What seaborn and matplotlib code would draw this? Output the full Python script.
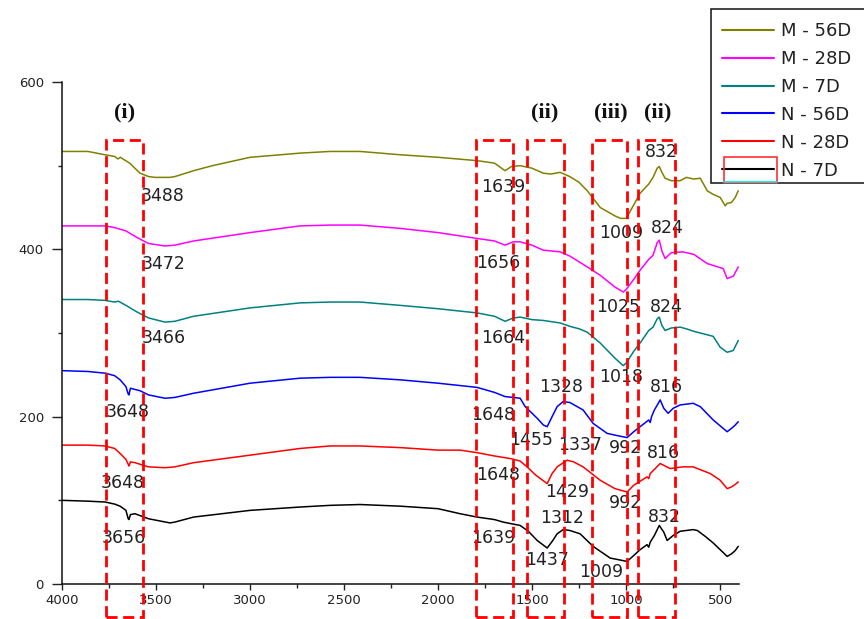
import numpy as np
import pandas as pd
import matplotlib
matplotlib.use("Agg")
import matplotlib.pyplot as plt
from matplotlib.patches import Rectangle
from matplotlib.lines import Line2D
import seaborn as sns

# ---------------- data (wavenumber, intensity) ----------------
wn_m56 = [4000, 3862, 3771, 3720, 3702, 3690, 3640, 3585, 3540, 3505, 3426, 3399, 3300, 3200, 3000,
          2734, 2574, 2415, 2200, 2000, 1793, 1700, 1644, 1610, 1564, 1501, 1441, 1400, 1351, 1300,
          1250, 1207, 1138, 1060, 1030, 1000, 960, 926, 880, 857, 835, 824, 810, 793, 760, 713, 680,
          640, 606, 569, 540, 500, 473, 463, 440, 420, 404]
ab_m56 = [517, 517, 513, 511, 508, 510, 503, 491, 487, 486, 486, 487, 494, 500, 510,
          515, 517, 517, 513, 510, 506, 503, 494, 499, 500, 497, 491, 490, 492, 487,
          480, 470, 450, 440, 437, 437, 453, 467, 478, 486, 497, 499, 492, 485, 482, 482, 486,
          484, 485, 470, 466, 462, 452, 455, 456, 462, 470]

wn_m28 = [4000, 3862, 3771, 3720, 3660, 3600, 3540, 3452, 3400, 3300, 3000, 2734, 2574, 2415, 2200,
          2000, 1793, 1700, 1644, 1600, 1564, 1501, 1441, 1351, 1300, 1250, 1207, 1138, 1060, 1016,
          1000, 960, 926, 880, 857, 835, 824, 810, 793, 760, 700, 640, 569, 484, 463, 430, 404]
ab_m28 = [428, 428, 428, 426, 422, 414, 407, 404, 405, 410, 420, 428, 429, 429, 425,
          420, 413, 410, 405, 409, 409, 405, 399, 397, 392, 385, 379, 369, 355, 349,
          352, 364, 375, 388, 393, 408, 411, 398, 389, 396, 397, 394, 383, 377, 365, 368, 379]

wn_m7 = [4000, 3862, 3771, 3720, 3700, 3660, 3600, 3540, 3452, 3400, 3300, 3000, 2734, 2574, 2415,
         2200, 2000, 1793, 1700, 1644, 1600, 1564, 1501, 1441, 1351, 1300, 1250, 1207, 1138, 1060,
         1016, 1000, 960, 926, 880, 857, 835, 824, 810, 793, 760, 713, 680, 640, 606, 537, 500,
         463, 431, 404]
ab_m7 = [340, 340, 339, 337, 338, 333, 325, 318, 313, 314, 320, 330, 336, 337, 337,
         333, 329, 324, 320, 314, 318, 319, 316, 315, 312, 308, 305, 301, 288, 270,
         261, 264, 278, 288, 303, 307, 317, 319, 309, 303, 306, 307, 305, 302, 300, 296, 283,
         277, 279, 291]

wn_n56 = [4000, 3862, 3771, 3720, 3691, 3660, 3648, 3644, 3636, 3620, 3585, 3540, 3452, 3400, 3300,
          3000, 2734, 2574, 2415, 2200, 2000, 1793, 1700, 1644, 1600, 1564, 1537, 1500, 1473, 1440,
          1420, 1394, 1367, 1335, 1300, 1229, 1176, 1101, 1040, 995, 960, 926, 880, 872, 865, 850,
          819, 800, 777, 750, 713, 644, 606, 537, 463, 440, 420, 404]
ab_n56 = [255, 254, 252, 249, 244, 236, 227, 226, 234, 233, 231, 226, 222, 223, 228,
          240, 246, 247, 247, 244, 240, 235, 229, 224, 223, 222, 212, 204, 198, 190,
          188, 200, 212, 218, 217, 208, 192, 180, 177, 175, 182, 188, 196, 193, 200, 208,
          220, 210, 204, 210, 214, 216, 212, 196, 182, 186, 190, 194]

wn_n28 = [4000, 3862, 3771, 3720, 3691, 3660, 3648, 3644, 3636, 3612, 3540, 3452, 3400, 3300, 3000,
          2734, 2574, 2415, 2200, 2000, 1883, 1793, 1700, 1617, 1564, 1527, 1480, 1420, 1394, 1367,
          1314, 1280, 1229, 1138, 1060, 995, 960, 889, 880, 872, 819, 766, 700, 644, 553, 500,
          463, 440, 420, 404]
ab_n28 = [166, 166, 165, 162, 156, 149, 143, 141, 146, 145, 140, 139, 140, 145, 154,
          162, 165, 165, 163, 160, 160, 157, 153, 150, 147, 140, 130, 120, 132, 140,
          148, 146, 140, 124, 114, 110, 118, 128, 126, 132, 144, 138, 140, 140, 132, 124,
          114, 116, 119, 122]

wn_n7 = [4000, 3862, 3771, 3720, 3691, 3660, 3648, 3644, 3636, 3612, 3540, 3426, 3400, 3300, 3000,
         2734, 2574, 2415, 2200, 2000, 1883, 1793, 1700, 1654, 1564, 1520, 1473, 1420, 1390, 1367,
         1335, 1300, 1245, 1176, 1085, 995, 960, 926, 889, 880, 872, 850, 824, 800, 782, 750,
         713, 680, 644, 622, 580, 537, 463, 440, 420, 404]
ab_n7 = [100, 99, 98, 95.5, 93, 88, 78, 77, 83, 84, 78, 73, 74, 80, 88,
         92, 94, 95, 93, 90, 84, 80, 77, 74, 70, 63, 52, 43, 52, 60,
         65, 64, 60, 45, 31, 27, 34, 41, 47, 44, 50, 58, 70, 62, 52, 58,
         63, 64, 65, 64, 57, 49, 33, 36, 40, 45]

series_names = ["M - 56D", "M - 28D", "M - 7D", "N - 56D", "N - 28D", "N - 7D"]
series_colors = ["#808000", "#ff00ff", "#008080", "#0000ff", "#ff0000", "#000000"]

x_ticks = [4000, 3500, 3000, 2500, 2000, 1500, 1000, 500]
y_ticks = [0, 200, 400, 600]

# peak annotations: text, wavenumber, y
peak_text = ["3488", "3472", "3466", "3648", "3648", "3656",
             "1639", "1656", "1664", "1648", "1648", "1639",
             "1009", "1025", "1018", "992", "992", "1009",
             "832", "824", "824", "816", "816", "832",
             "1328", "1455", "1337", "1429", "1312", "1437"]
peak_x = [3463, 3457, 3457, 3649, 3676, 3670,
          1654, 1678, 1654, 1705, 1681, 1707,
          1024, 1043, 1027, 1005, 1005, 1133,
          814, 782, 787, 787, 803, 798,
          1346, 1505, 1245, 1314, 1340, 1420]
peak_y = [464, 383, 294, 205, 121, 55,
          474, 384, 294, 202, 130, 55,
          420, 331, 247, 162, 97, 14,
          516, 426, 331, 236, 156, 80,
          235, 172, 166, 110, 79, 29]

region_text = ["(i)", "(ii)", "(iii)", "(ii)"]
region_x = [3665, 1431, 1080, 830]

box_left = [3766, 1798, 1528, 1183, 935]
box_right = [3571, 1603, 1333, 996, 739]

# ---------------- build table ----------------
frames = []
for name, wn, ab in zip(series_names,
                        [wn_m56, wn_m28, wn_m7, wn_n56, wn_n28, wn_n7],
                        [ab_m56, ab_m28, ab_m7, ab_n56, ab_n28, ab_n7]):
    frames.append(pd.DataFrame({"wn": wn, "ab": ab, "series": name}))
df = pd.concat(frames, ignore_index=True)

sns.set_theme(style="ticks")
plt.rcParams["font.family"] = ["DejaVu Sans"]

fig = plt.figure(figsize=(8.64, 6.19), dpi=100)
ax = fig.add_axes([62 / 864, 1 - 584 / 619, 677 / 864, 502 / 619])

sns.lineplot(data=df, x="wn", y="ab", hue="series", hue_order=series_names,
             palette=dict(zip(series_names, series_colors)), estimator=None,
             sort=False, linewidth=1.1, legend=False, ax=ax)

ax.set_xlim(4000, 400)
ax.set_ylim(0, 600)
ax.set_xticks(x_ticks)
ax.set_yticks(y_ticks)
ax.set_xticks([3750, 3250, 2750, 2250, 1750, 1250, 750], minor=True)
ax.set_yticks([100, 300, 500], minor=True)
ax.set_xlabel("")
ax.set_ylabel("")
for s in ["top", "right"]:
    ax.spines[s].set_visible(False)
for s in ["left", "bottom"]:
    ax.spines[s].set_linewidth(1.1)
    ax.spines[s].set_color("#111111")
ax.tick_params(axis="x", which="major", length=4.5, width=1.0, labelsize=9.5, pad=3, colors="#222222")
ax.tick_params(axis="y", which="major", length=7, width=1.0, labelsize=9.5, pad=6, colors="#222222")
ax.tick_params(axis="x", which="minor", length=3, width=1.0, colors="#222222")
ax.tick_params(axis="y", which="minor", length=3, width=1.0, colors="#222222")
ax.patch.set_alpha(0)

for t, x, y in zip(peak_text, peak_x, peak_y):
    ax.text(x, y, t, ha="center", va="center", fontsize=12.5, color="#222222", clip_on=False)

for t, x in zip(region_text, region_x):
    ax.text(x, 563, t, ha="center", va="center", fontsize=16, fontweight="bold",
            family="Liberation Serif", color="#111111", clip_on=False)

for l, r in zip(box_left, box_right):
    rect = Rectangle((l, -40), r - l, 571, fill=False, edgecolor="#ff0000",
                     linewidth=2.0, linestyle=(0, (4, 2)), clip_on=False, zorder=5)
    ax.add_patch(rect)

# legend
frame = Rectangle((711 / 864, 1 - 183 / 619), 0.25, 174 / 619, transform=fig.transFigure,
                  fill=True, facecolor="white", edgecolor="#111111", linewidth=1.1, zorder=3)
fig.patches.append(frame)
handles = [Line2D([], [], color=c, lw=1.5) for c in series_colors]
leg = fig.legend(handles, series_names, loc="upper left", bbox_to_anchor=(722 / 864, 1 - 22 / 619),
                 frameon=False, fontsize=13, handlelength=2.9, handletextpad=0.35,
                 labelspacing=0.55, borderpad=0, borderaxespad=0)
leg.set_zorder(4)
for txt in leg.get_texts():
    txt.set_color("#222222")
fig.patches.append(Rectangle((724 / 864, 1 - 183 / 619), 53 / 864, 26 / 619, transform=fig.transFigure,
                             fill=False, edgecolor="#ff3030", linewidth=1.2, zorder=5))
fig.lines.append(Line2D([724 / 864, 777 / 864], [1 - 182 / 619, 1 - 182 / 619],
                        transform=fig.transFigure, color="#00e5e5", lw=1.2, zorder=6))

fig.savefig("out.png", dpi=100)
